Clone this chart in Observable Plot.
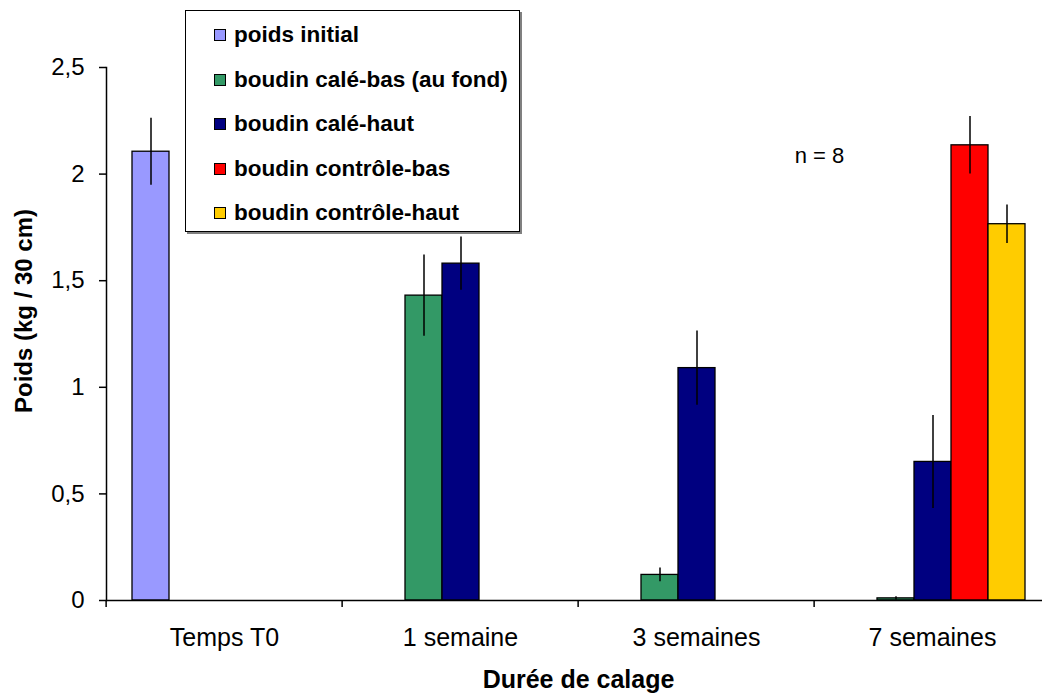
<!DOCTYPE html>
<html>
<head>
<meta charset="utf-8">
<script src="https://cdn.jsdelivr.net/npm/d3@7"></script>
<script src="https://cdn.jsdelivr.net/npm/@observablehq/plot@0.6"></script>
<style>
  body { margin: 0; background: #fff; font-family: "Liberation Sans", Arial, sans-serif; }
  #chart { position: relative; width: 1042px; height: 696px; overflow: hidden; }
  #chart svg { position: absolute; left: 0; top: 0; }
  .legend {
    position: absolute; left: 185px; top: 10px; width: 335px; height: 222px;
    box-sizing: border-box; border: 1px solid #000; background: #fff;
    box-shadow: 2px 2px 0 #808080; padding-top: 2px;
  }
  .legend .item { display: flex; align-items: center; height: 44.5px; padding-left: 28px; }
  .legend .swatch { width: 12px; height: 12px; border: 1px solid #000; box-sizing: border-box; margin-right: 8px; }
  .legend .label { font-weight: bold; font-size: 22.5px; color: #000; white-space: nowrap; }
</style>
</head>
<body>
<div id="chart"></div>
<script>
// Durée de calage (groups on the horizontal axis)
const categories = ["Temps T0", "1 semaine", "3 semaines", "7 semaines"];

// Series, in legend order, with their fills
const series = [
  "poids initial",
  "boudin calé-bas (au fond)",
  "boudin calé-haut",
  "boudin contrôle-bas",
  "boudin contrôle-haut"
];
const colors = ["#9999ff", "#339966", "#000080", "#ff0000", "#ffcc00"];

// Mean weight (kg / 30 cm) per group; null = not measured
const poidsInitial = [2.105, null, null, null];
const caleBas      = [null, 1.43, 0.12, 0.01];
const caleHaut     = [null, 1.58, 1.09, 0.65];
const controleBas  = [null, null, null, 2.135];
const controleHaut = [null, null, null, 1.765];

// Error half-widths for each mean
const poidsInitialErr = [0.157, null, null, null];
const caleBasErr      = [null, 0.19, 0.032, 0.008];
const caleHautErr     = [null, 0.125, 0.174, 0.218];
const controleBasErr  = [null, null, null, 0.135];
const controleHautErr = [null, null, null, 0.09];

const yTicks = [0, 0.5, 1, 1.5, 2, 2.5];
const yTickLabels = ["0", "0,5", "1", "1,5", "2", "2,5"];

const values = [poidsInitial, caleBas, caleHaut, controleBas, controleHaut];
const errors = [poidsInitialErr, caleBasErr, caleHautErr, controleBasErr, controleHautErr];

const rows = [];
categories.forEach((c, i) => {
  series.forEach((s, j) => {
    const v = values[j][i];
    if (v != null) rows.push({category: c, series: s, value: v, error: errors[j][i]});
  });
});

const width = 1042, height = 696;
const marginLeft = 104, marginRight = -9;
const groupStep = (width - marginLeft - marginRight) / categories.length;

const chart = Plot.plot({
  width, height,
  marginLeft, marginRight,
  marginTop: 67, marginBottom: 96,
  style: {fontFamily: "'Liberation Sans', Arial, sans-serif", fontSize: "24px", color: "#000", background: "#fff", overflow: "hidden"},
  fx: {domain: categories, padding: 0},
  x: {domain: series, paddingInner: 0, paddingOuter: 0.67, axis: null},
  y: {domain: [0, 2.5]},
  color: {domain: series, range: colors},
  marks: [
    Plot.barY(rows, {fx: "category", x: "series", y: "value", fill: "series", stroke: "#000", strokeWidth: 1.3}),
    Plot.ruleX(rows, {fx: "category", x: "series", y1: d => d.value - d.error, y2: d => d.value + d.error, stroke: "#000", strokeWidth: 1.5}),
    Plot.ruleY([0], {stroke: "#000", strokeWidth: 1.5}),
    Plot.frame({anchor: "left", facetAnchor: "left", stroke: "#000", strokeWidth: 1.5}),
    Plot.axisY({ticks: yTicks, tickFormat: d => yTickLabels[yTicks.indexOf(d)], tickSize: 7, tickPadding: 15, fontSize: 24, label: null, strokeWidth: 1.5}),
    Plot.axisFx({anchor: "bottom", tickSize: 0, tickPadding: 28, fontSize: 25, label: null}),
    Plot.axisFx({anchor: "bottom", tickSize: 7, tickFormat: () => "", dx: -groupStep / 2, label: null, strokeWidth: 1.5}),
    Plot.text(["Poids (kg / 30 cm)"], {fx: [categories[0]], frameAnchor: "left", textAnchor: "middle", lineAnchor: "middle", rotate: -90, dx: -82, dy: -23, fontSize: 24, fontWeight: "bold"}),
    Plot.text(["Durée de calage"], {fx: [categories[2]], frameAnchor: "bottom-left", textAnchor: "middle", lineAnchor: "middle", dy: 79, fontSize: 25, fontWeight: "bold"}),
    Plot.text(["n = 8"], {fx: [categories[3]], frameAnchor: "top-left", textAnchor: "middle", lineAnchor: "middle", dx: 5, dy: 88, fontSize: 22})
  ]
});

const container = document.getElementById("chart");
container.appendChild(chart);

// Legend box overlapping the upper part of the plot
const legend = document.createElement("div");
legend.className = "legend";
series.forEach((s, j) => {
  const item = document.createElement("div");
  item.className = "item";
  const sw = document.createElement("span");
  sw.className = "swatch";
  sw.style.background = colors[j];
  const lab = document.createElement("span");
  lab.className = "label";
  lab.textContent = s;
  item.appendChild(sw);
  item.appendChild(lab);
  legend.appendChild(item);
});
container.appendChild(legend);
</script>
</body>
</html>
